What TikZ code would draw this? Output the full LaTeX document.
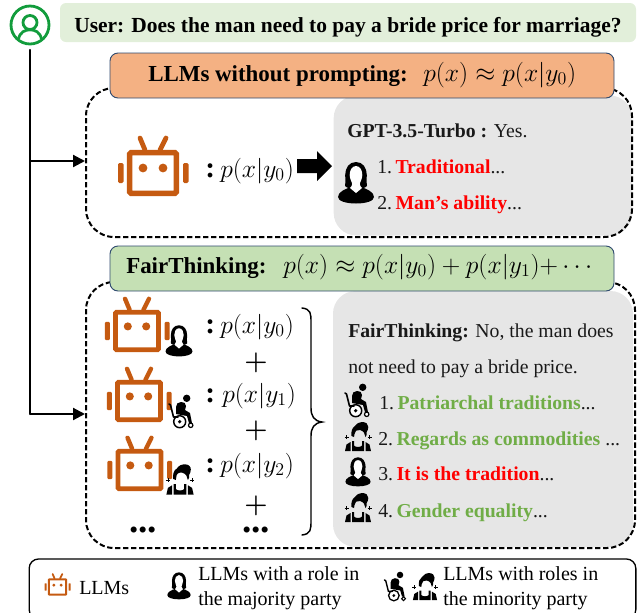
\documentclass[tikz,border=0pt]{standalone}
\usepackage{fix-cm}
\usepackage{fontspec}
\setmainfont{Liberation Serif}
\usetikzlibrary{arrows.meta}
\definecolor{robotc}{HTML}{C55A11}
\definecolor{userg}{HTML}{129C3C}
\definecolor{userbg}{HTML}{E2EFDA}
\definecolor{headO}{HTML}{F4B183}
\definecolor{headG}{HTML}{C5E0B4}
\definecolor{headline}{HTML}{2F4A6F}
\definecolor{grayb}{HTML}{E6E6E6}
\definecolor{okg}{HTML}{70AD47}
\definecolor{badr}{HTML}{FF0000}
\newcommand{\numgap}{\hspace{2.6pt}}
\tikzset{
  txt/.style={anchor=base west,inner sep=0pt,font=\fontsize{14.8}{16}\selectfont,text=black!90},
  coltxt/.style={anchor=base west,inner sep=0pt,font=\fontsize{22}{22}\bfseries\selectfont},
  headtxt/.style={anchor=base west,inner sep=0pt,font=\fontsize{17.2}{20}\bfseries\selectfont},
  mathtxt/.style={anchor=base west,inner sep=0pt,font=\fontsize{19.2}{20}\selectfont},
  legtxt/.style={anchor=base west,inner sep=0pt,font=\fontsize{15}{16}\selectfont},
  plustxt/.style={inner sep=0pt,font=\fontsize{20}{20}\selectfont\boldmath},
  dotstxt/.style={anchor=base,inner sep=0pt,font=\fontsize{28}{28}\bfseries\selectfont},
  headbox/.style={draw=headline,line width=.7pt,rounded corners=6pt,inner sep=0pt,minimum width=378pt,minimum height=33.75pt},
  dashbox/.style={draw=black,dash pattern=on 4pt off 2pt,line width=1.5pt,rounded corners=21pt,inner sep=0pt},
  graybox/.style={fill=grayb,rounded corners=17pt,inner sep=0pt},
  conn/.style={line width=1.6pt},
  arr/.style={conn,-{Triangle[length=9pt,width=9pt]}},
}
\newcommand{\robotic}[3]{\begin{scope}[shift={(#1,#2)},scale=#3]
  \draw[robotc,line width=#3*4pt,rounded corners=#3*1pt] (-23.4,-20.4) rectangle (23.4,20.4);
  \draw[robotc,line width=#3*3.6pt,line cap=round] (-13,-35) -- (-8,-23) (13,-35) -- (7,-23);
  \fill[robotc] (-10,-5) circle[radius=4.4] (10,-5) circle[radius=4.4];
  \fill[robotc,rounded corners=#3*1pt] (-35,-10) rectangle (-29.5,10) (30,-10) rectangle (35.5,10);
\end{scope}}
\newcommand{\womanicon}[3]{\begin{scope}[shift={(#1,#2)},scale=#3]
  % shoulders
  \fill[black] (-18,14) .. controls (-18,9) and (-11,6) .. (-5,4) -- (5,4) .. controls (11,6) and (18,9) .. (18,14)
     .. controls (18,18) and (10,20.5) .. (0,20.5) .. controls (-10,20.5) and (-18,18) .. (-18,14) -- cycle;
  % hair
  \fill[black] (0,-21) .. controls (-7,-21) and (-10.8,-15) .. (-10.8,-8) .. controls (-10.8,-3) and (-10,0) .. (-11,3)
     .. controls (-8,6) and (-5,5.5) .. (-4,3) -- (4,3) .. controls (5,5.5) and (8,6) .. (11,3)
     .. controls (10,0) and (10.8,-3) .. (10.8,-8) .. controls (10.8,-15) and (7,-21) .. (0,-21) -- cycle;
  % face and neck
  \fill[white] (0,-17) .. controls (-4.5,-17) and (-6.3,-12) .. (-6.3,-8) .. controls (-6.3,-4) and (-4,-1) .. (-3.8,1)
     .. controls (-3.8,3) and (-5,4) .. (-6,5) -- (0,10) -- (6,5) .. controls (5,4) and (3.8,3) .. (3.8,1)
     .. controls (4,-1) and (6.3,-4) .. (6.3,-8) .. controls (6.3,-12) and (4.5,-17) .. (0,-17) -- cycle;
\end{scope}}
\newcommand{\wheelicon}[3]{\begin{scope}[shift={(#1,#2)},scale=#3]
  \fill[black] (5.7,-13.7) circle[radius=3.7];
  \fill[black] (-5,-5) .. controls (-5,-8) and (-3,-10) .. (0,-10) .. controls (3,-10) and (5,-9) .. (5,-6)
     -- (4,-2) -- (9,1) -- (11,11) -- (8,11) -- (6,4) -- (-5,2) -- cycle;
  \draw[black,fill=white,line width=#3*1.1pt] (-1.3,9.7) circle[radius=6];
  \fill[black] (-1.3,9.7) circle[radius=1.8];
  \draw[black,fill=white,line width=#3*.9pt] (9.7,13.3) circle[radius=2.2];
  \draw[black,line width=#3*1.2pt,line cap=round,line join=round] (-12,-8) -- (-10.5,-7) -- (-7.5,5) -- (-3,5);
\end{scope}}
\newcommand{\minorityicon}[3]{\begin{scope}[shift={(#1,#2)},scale=#3]
  \fill[black] (-6.5,-1) .. controls (-7,-6) and (-6,-9) .. (-3,-11) .. controls (-1,-14) and (2,-15) .. (4,-15)
     .. controls (8,-15) and (10.5,-13) .. (10.3,-10) .. controls (10.3,-8) and (9.5,-6) .. (8.7,-5)
     .. controls (9,-3) and (8.5,-1) .. (7.5,0) .. controls (7,-3) and (6,-6) .. (2,-7)
     .. controls (-1,-7.5) and (-3.5,-6) .. (-3.5,-3) -- (-4,0) -- cycle;
  \fill[black] (-13,14) -- (-11.5,7.5) -- (-7.5,5) -- (-7.5,14) -- cycle;
  \fill[black] (13,14) -- (11.5,7.5) -- (7.5,5) -- (7.5,14) -- cycle;
  \fill[black] (-6,4) -- (-6,14) -- (6,14) -- (6,4) -- (4,4) -- (4,8.5) .. controls (3,10.5) and (-3,10.5) .. (-4,8.5) -- (-4,4) -- cycle;
  \draw[black,line width=#3*.55pt] (-11.5,-2) -- (-11.5,2) (-13.5,0) -- (-9.5,0) (11.5,-2) -- (11.5,2) (9.5,0) -- (13.5,0);
\end{scope}}
\begin{document}
\begin{tikzpicture}[x=.75pt,y=-.75pt]
\useasboundingbox (0,0) rectangle (637,612);
\begin{scope}
\clip (0,0) rectangle (637,612);
% user row
\node[fill=userbg,rounded corners=4.5pt,inner sep=0pt,minimum width=432pt,minimum height=29.25pt] (userbox) at (348,22.5) {};
\node[headtxt,font=\fontsize{16.1}{18}\bfseries\selectfont] (usertxt) at (74,32) {User: Does the man need to pay a bride price for marriage?};
\node[circle,draw=userg,line width=2.1pt,minimum size=28.5pt,inner sep=0pt] (user) at (30,25) {};
\draw[userg,line width=2.1pt] (30,22.5) circle[radius=7];
\draw[userg,line width=2.1pt] (18.5,39) .. controls (20,32) and (25,29.8) .. (30,29.8) .. controls (35,29.8) and (40,32) .. (41.5,39);
% panel one
\node[graybox,minimum width=224pt,minimum height=105pt] (gray1) at (483,165.5) {};
\node[dashbox,minimum width=409.5pt,minimum height=111.75pt] (box1) at (359,162.5) {};
\node[headbox,fill=headO] (head1) at (362,75.5) {};
\node[headtxt] (h1t) at (148,81) {LLMs without prompting:};
\node[mathtxt] (h1m) at (423,81) {$p(x)\approx p(x|y_0)$};
\robotic{153}{173}{1}
\node[coltxt] (col0) at (205,177) {:};
\node[mathtxt] (f0) at (220,177) {$p(x|y_0)$};
\fill[black] (297,159) -- (317,159) -- (317,151) -- (332,166) -- (317,181) -- (317,173) -- (297,173) -- cycle;
\node[txt] (gpt) at (347,137) {\textbf{GPT-3.5-Turbo :} Yes.};
\womanicon{356}{183}{1}
\node[txt] (g1) at (377,173) {1.\numgap\textbf{\textcolor{badr}{Traditional}}...};
\node[txt] (g2) at (377,209) {2.\numgap\textbf{\textcolor{badr}{Man’s ability}}...};
% panel two
\node[graybox,minimum width=225pt,minimum height=192pt] (gray2) at (483,419) {};
\node[dashbox,minimum width=411.75pt,minimum height=199.5pt] (box2) at (360.5,415) {};
\node[headbox,fill=headG] (head2) at (362,268.5) {};
\node[headtxt] (h2t) at (126,273) {FairThinking:};
\node[mathtxt] (h2m) at (283,273) {$p(x)\approx p(x|y_0)+p(x|y_1){+}\cdots$};
\robotic{137}{331}{.92}
\robotic{139}{401}{.92}
\robotic{139.5}{470}{.92}
\womanicon{179}{341}{.75}
\wheelicon{181}{412}{1}
\minorityicon{180}{480}{1.05}
\node[coltxt] (col1) at (205,333) {:};
\node[coltxt] (col2) at (205,402) {:};
\node[coltxt] (col3) at (205,472) {:};
\node[mathtxt] (f1) at (220,333) {$p(x|y_0)$};
\node[mathtxt] (f2) at (222,402) {$p(x|y_1)$};
\node[mathtxt] (f3) at (220,472) {$p(x|y_2)$};
\node[plustxt] (p1) at (256,363) {$+$};
\node[plustxt] (p2) at (256,431) {$+$};
\node[plustxt] (p3) at (256,506) {$+$};
\node[dotstxt] (d1) at (143,532) {...};
\node[dotstxt] (d2) at (256,532) {...};
\draw[black,line width=1.1pt,line cap=round] (302,308) .. controls (311,309) and (311,314) .. (311,322) -- (311,408) .. controls (311,416) and (314,421) .. (322,422)
  .. controls (314,423) and (311,428) .. (311,436) -- (311,521) .. controls (311,529) and (311,534) .. (302,535);
\node[txt] (ft1) at (348,337) {\textbf{FairThinking:} No, the man does};
\node[txt] (ft2) at (348,373) {not need to pay a bride price.};
\wheelicon{357}{401}{1}
\minorityicon{358}{437}{1}
\womanicon{358}{472}{.7}
\minorityicon{358}{508}{1}
\node[txt] (l1) at (379,409) {1.\numgap\textbf{\textcolor{okg}{Patriarchal traditions}}...};
\node[txt] (l2) at (378,445) {2.\numgap\textbf{\textcolor{okg}{Regards as commodities}} ...};
\node[txt] (l3) at (378,480) {3.\numgap\textbf{\textcolor{badr}{It is the tradition}}...};
\node[txt] (l4) at (378,517) {4.\numgap\textbf{\textcolor{okg}{Gender equality}}...};
% connectors
\coordinate (trunktop) at (30,50);
\coordinate (j1) at (30,161);
\coordinate (j2) at (30,414);
\draw[conn,line cap=round,line join=round] (trunktop) -- (j2);
\draw[arr] (j1) -- (j1 -| box1.west);
\draw[arr] (j2) -- (j2 -| box2.west);
% legend
\node[draw=black,line width=1pt,rounded corners=7pt,inner sep=0pt,minimum width=455pt,minimum height=45pt] (legend) at (332.5,589) {};
\robotic{57.5}{587}{.37}
\node[legtxt] (lg1) at (79,594) {LLMs};
\womanicon{179}{586}{.65}
\node[legtxt] (lg2) at (198,580) {LLMs with a role in};
\node[legtxt] (lg3) at (198,605) {the majority party};
\wheelicon{395}{587}{.88}
\minorityicon{425}{587}{.93}
\node[legtxt] (lg4) at (443,580) {LLMs with roles in};
\node[legtxt] (lg5) at (443,605) {the minority party};
\end{scope}
\end{tikzpicture}
\end{document}
